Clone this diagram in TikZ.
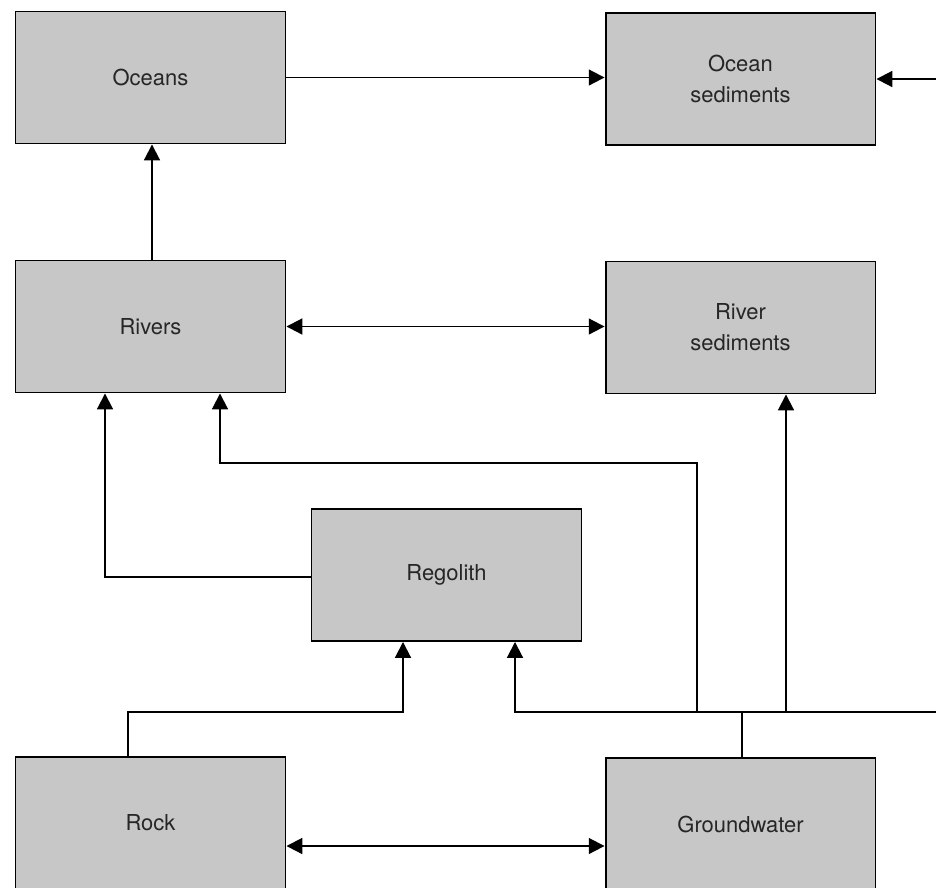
\documentclass[tikz,border=0pt]{standalone}
\usepackage{fontspec}
\setmainfont{TeX Gyre Heros}
\usetikzlibrary{arrows.meta}

\begin{document}
\begin{tikzpicture}[x=0.02cm, y=-0.02cm, line width=1.1pt,
    box/.style={draw, fill=black!22, minimum width=5.4cm, minimum height=2.64cm,
      align=center, font=\fontsize{12.5}{17.5}\selectfont, text=black!85},
    tip/.style={-{Triangle[length=9pt,width=9pt]}},
    tips/.style={{Triangle[length=9pt,width=9pt]}-{Triangle[length=9pt,width=9pt]}}]
  \useasboundingbox (0,0) rectangle (936,887);

  \node[box] (oce) at (150.5,77.5) {Oceans};
  \node[box] (osed) at (740.5,79) {Ocean\\sediments};
  \node[box] (riv) at (150.5,326.5) {Rivers};
  \node[box] (rsed) at (740.5,327.5) {River\\sediments};
  \node[box] (reg) at (446.5,575) {Regolith};
  \node[box] (rock) at (150.5,823) {Rock};
  \node[box] (gw) at (740.5,824) {Groundwater};

  \coordinate (gwj) at (742,712);
  \coordinate (rkj) at (128,712);
  \coordinate (rgj) at (515,712);
  \coordinate (rvj) at (697,712);
  \coordinate (sdj) at (786,712);
  \coordinate (edge) at (942,712);
  \coordinate (bend) at (697,463);

  \draw[tip] (oce.east) -- (oce.east -| osed.west);
  \draw[tip] (riv.north -| 152,0) -- (oce.south -| 152,0);
  \draw[tips] (riv.east) -- (riv.east -| rsed.west);
  \draw[tips] (rock.east |- 0,846) -- (gw.west |- 0,846);

  \draw[tip] (reg.west |- 0,577) -| (riv.south -| 105,0);
  \draw[tip] (rvj) -- (bend) -| (riv.south -| 220,0);
  \draw[tip] (sdj) -- (rsed.south -| sdj);
  \draw[tip] (rock.north -| rkj) -- (rkj) -| (reg.south -| 403,0);
  \draw[tip] (edge) -- (rgj) -- (reg.south -| rgj);
  \draw (gw.north -| gwj) -- (gwj);
  \draw[tip] (edge) |- (osed.east);
\end{tikzpicture}
\end{document}
